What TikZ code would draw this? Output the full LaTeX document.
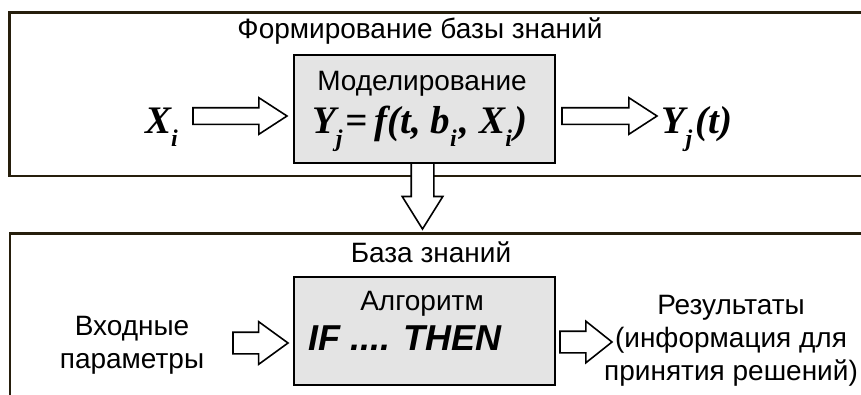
\documentclass[tikz,border=0pt]{standalone}
\usepackage{fontspec}
\setmainfont{Liberation Sans}
\newfontfamily\formulafont{Liberation Serif}
\usepackage{xcolor}
\usetikzlibrary{shapes.arrows}
\definecolor{framebrown}{RGB}{38,30,12}
\definecolor{boxgray}{RGB}{228,228,228}
% lowered index for the formulas
\newcommand{\lowidx}[1]{\raisebox{-13pt}{\fontsize{24}{24}\selectfont #1}\kern3pt}

\begin{document}
\begin{tikzpicture}[x=1pt, y=-1pt,
  frame/.style={draw=framebrown, line width=2.5pt},
  block/.style={draw, line width=1.8pt, fill=boxgray, minimum width=261pt,
              minimum height=108pt, inner sep=0pt},
  label text/.style={font=\fontsize{28}{33}\selectfont, inner sep=0pt},
  formula/.style={font=\fontsize{39}{40}\selectfont\formulafont\bfseries\itshape, inner sep=0pt},
  fatarrow/.style={single arrow, draw, fill=white, line width=1.6pt,
              inner sep=0pt, outer sep=0pt, anchor=tail},
]
  \useasboundingbox (0,0) rectangle (861,394);
  \clip (0,0) rectangle (861,394);

  % Frames (open on the right)
  \draw[frame] (870,12.5) -- (9.5,12.5) -- (9.5,176) -- (870,176);
  \draw[frame] (870,233.5) -- (10,233.5) -- (10,400);

  % Upper part
  \node[label text, anchor=base] (title1) at (420,38) {Формирование базы знаний};
  \node[block] (model) at (424.5,109) {};
  \node[label text, anchor=base] (modeltitle) at (422,90) {Моделирование};
  \node[formula, anchor=base] (modelf) at (420,133) {Y\lowidx{j}=\,f(t, b\lowidx{i}, X\lowidx{i})};
  \node[formula, anchor=base] (xin) at (163,133) {X\lowidx{i}};
  \node[formula, anchor=base] (yout) at (697,133) {Y\lowidx{j}(t)};

  \node[fatarrow, minimum height=94pt, single arrow head extend=10pt,
        single arrow tip angle=66, inner ysep=7.5pt] (inarrow) at (193,116) {};
  \node[fatarrow, minimum height=95pt, single arrow head extend=10pt,
        single arrow tip angle=66, inner ysep=7.5pt] (outarrow) at (562,116) {};

  % Model to knowledge base
  \node[fatarrow, rotate=-90, minimum height=66pt, single arrow head extend=9pt,
        single arrow tip angle=64, inner ysep=10.5pt] (down) at (422.5,163) {};

  % Lower part
  \node[label text, anchor=base] (title2) at (431,262) {База знаний};
  \node[block] (algo) at (424.5,331) {};
  \node[label text, anchor=base] (algotitle) at (422,310) {Алгоритм};
  \node[label text, font=\fontsize{36}{38}\selectfont\bfseries\itshape,
        anchor=base] (rule) at (405,350) {IF .... THEN};
  \node[label text, align=center] (inputs) at (132,345) {Входные\\параметры};
  \node[label text, align=center] (results) at (731,341)
    {Результаты\\(информация для\\принятия решений)};

  \node[fatarrow, minimum height=55pt, single arrow head extend=10.5pt,
        single arrow tip angle=72, inner ysep=10pt] (inarrow2) at (233,343) {};
  \node[fatarrow, minimum height=52pt, single arrow head extend=10pt,
        single arrow tip angle=77, inner ysep=10pt] (outarrow2) at (560,342) {};
\end{tikzpicture}
\end{document}
